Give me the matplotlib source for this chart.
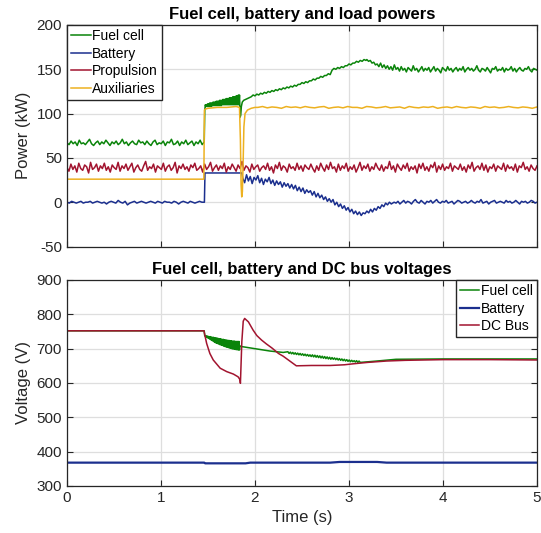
import numpy as np
import matplotlib.pyplot as plt

plt.rcParams['font.family'] = ['Liberation Sans', 'DejaVu Sans']
plt.rcParams['axes.unicode_minus'] = False

# =========================
# Datos
# =========================

# --- potencias (kW) ---
fc_early = [67, 65, 69, 66, 68, 64, 70, 66, 67, 65, 68, 71, 66, 64, 67, 69, 65, 68, 66, 70,
            67, 64, 68, 66, 69, 65, 67, 71, 66, 68, 64, 67, 69, 66, 65, 70, 67, 68, 65, 69,
            66, 64, 68, 70, 65, 67, 66, 69, 64, 68, 67, 71, 65, 66, 69, 64, 68, 66, 70, 65,
            67, 69, 64, 68, 66, 70, 65, 68]
fc_band = [104, 110, 108, 110, 108, 111, 108, 111, 108, 112, 108, 112, 108, 112, 109, 113,
           109, 113, 109, 113, 109, 114, 109, 114, 109, 114, 109, 115, 109, 115, 109, 115,
           110, 116, 110, 116, 110, 116, 110, 117, 110, 117, 110, 117, 110, 118, 110, 118,
           110, 118, 110, 119, 110, 119, 110, 119, 110, 120, 110, 120, 110, 121, 110, 121]
fc_dip_t = [1.838, 1.842, 1.848, 1.855, 1.865, 1.88, 1.92]
fc_dip = [112, 96, 98, 108, 113, 115, 117]
fc_ramp = [119, 121, 120, 122, 121, 123, 122, 124, 123, 125, 124, 126, 125, 127, 126, 128,
           127, 129, 128, 130, 129, 131, 130, 132, 131, 133, 133, 135, 134, 136, 135, 137,
           137, 139, 138, 140, 140, 142, 141, 143, 143, 145, 144]
fc_ramp2 = [149, 151, 150, 152, 151, 153, 152, 154, 154, 156, 155, 157, 157, 159, 158, 160,
            159, 161, 160]
fc_late = [161, 159, 160, 157, 158, 155, 156, 153, 157, 152, 155, 151, 154, 150, 153, 149, 155, 150, 152, 148,
           153, 149, 151, 147, 152, 150, 148, 154, 149, 151, 147, 150, 153, 148, 151, 149, 152, 147, 150, 153,
           148, 151, 149, 146, 152, 150, 148, 153, 149, 151, 147, 150, 152, 148, 151, 149, 153, 147, 150, 152,
           149, 151, 148, 150, 154, 149, 147, 151, 150, 148, 152, 149, 146, 151, 150, 153, 148, 150, 149, 152,
           147, 151, 149, 150, 153, 148, 151, 147, 150, 152, 149, 148, 151, 150, 153, 149, 147, 151, 150, 149]

bat_early = [0, -1, 1, 0, -1, 0, 1, -1, 0, 0, 1, -1, 0, 1, 0, -1, 0, -2, 0, 1,
             0, -1, 2, 0, -1, 1, -3, -1, 0, 1, -1, 0, 1, 0, -1, 0, 1, 0, -1, 1,
             0, -1, 1, 0, 0, -1, 1, 0, -2, 0, 1, 0, -1, 1, 0, -1, 0, 1, 0, 0]
bat_step_t = [1.462, 1.468, 1.86]
bat_step = [0, 33, 33]
bat_mid = [27, 22, 31, 24, 29, 21, 28, 25, 30, 22, 27, 20, 26, 23, 28,
           21, 25, 19, 24, 20, 23, 17, 22, 18, 21, 16, 20,
           15, 19, 13, 17, 12, 16, 10, 14, 11,
           13, 8, 12, 6, 10, 5, 8, 3, 6, 1, 4,
           0, 3, -3, 0, -5, -2, -7, -4, -9, -6,
           -11, -8, -13, -10, -14, -11, -15, -12, -13, -10,
           -12, -8, -11, -7, -9, -5, -7, -3, -5, -1, -3, 0, -2]
bat_late = [0, -1, 1, -2, 0, 2, -1, 1, 0, -2, 1, 3, 0, -1, 2, 0, -2, 1, 0, 2,
            -1, 1, 3, 0, -1, 1, 0, 2, -1, 0, 1, -2, 0, 2, 1, -1, 0, 1, -1, 0,
            2, 0, -1, 1, 0, 3, -1, 0, 1, -2, 0, 1, 2, -1, 0, 1, 0, -1, 2, 0,
            1, -1, 0, 2, 0, -2, 1, 0, 1, -1, 0, 2, 1, -1, 0]

prop = [39, 35, 43, 37, 41, 34, 44, 38, 36, 42, 40, 33, 45, 37, 39, 43, 35, 41, 38, 44,
        36, 40, 34, 42, 39, 37, 45, 35, 41, 38, 43, 36, 40, 44, 34, 39, 42, 37, 35, 41,
        46, 36, 40, 38, 43, 34, 41, 39, 37, 44, 35, 40, 42, 36, 39, 45, 33, 41, 38, 43,
        37, 40, 35, 42, 39, 44, 36, 38, 41, 34, 43, 37, 40, 45, 35, 39, 42, 36, 41, 38,
        44, 34, 40, 37, 43, 39, 35, 42, 38, 46, 36, 41, 39, 34, 43, 37, 40, 42, 35, 39,
        41, 37, 44, 36, 40, 33, 42, 38, 45, 36, 41, 39, 34, 43, 38, 40, 36, 44, 37, 41,
        35, 42, 39, 37, 43, 38, 34, 41, 36, 44, 39, 35, 42, 37, 45, 38, 40, 34, 43, 36,
        41, 38, 44, 35, 40, 37, 42, 34, 39, 45, 36, 41, 38, 43, 35, 40, 37, 44, 39, 36,
        42, 35, 40, 38, 46, 37, 41, 34, 43, 39, 36, 42, 38, 44, 35, 40, 37, 41, 33, 43,
        38, 44, 36, 40, 35, 42, 39, 45, 34, 41, 37, 43, 36, 40, 38, 44, 35, 41, 39, 37,
        43, 36, 40, 34, 42, 38, 45, 35, 39, 41, 37, 44, 36, 42, 34, 40, 38, 43, 35, 41,
        39, 37, 44, 35, 42, 38, 40, 36, 43, 34, 41, 39, 45, 37, 40, 35, 42, 38, 36, 41]

aux_early_t = [0, 0.5, 1.0, 1.456]
aux_early = [26, 26, 26, 26]
aux_trans_t = [1.462, 1.47, 1.5, 1.6, 1.7, 1.8, 1.835, 1.845, 1.852, 1.859, 1.866, 1.874,
               1.882, 1.894, 1.92, 1.96, 2.0]
aux_trans = [104, 105, 106, 107, 107, 108, 107, 70, 20, 6, 12, 45, 85, 100, 104, 106, 107]
aux_late = [107, 108, 106.5, 107.5, 107, 106, 108, 107, 107.5, 106.5, 108, 107, 106.5, 107.5,
            108, 106, 107, 107.5, 106.5, 108, 107, 107, 106, 108, 107.5, 106.5, 107, 108,
            106.5, 107, 107.5, 106, 108, 107, 106.5, 107.5, 107, 108, 106, 107, 107.5, 106.5,
            108, 107, 106.5, 107.5, 107, 106, 108, 107, 107.5, 106.5, 107, 108, 107, 106.5,
            107.5, 107, 106, 107.5]

# --- tensiones (V) ---
vfc_early_t = [0, 1.46]
vfc_early = [752, 752]
vfc_band = [738, 736, 737, 734, 737, 732, 736, 730, 735, 728, 735, 726, 734, 724, 733, 722,
            733, 720, 732, 718, 731, 716, 731, 715, 730, 714, 729, 712, 729, 711, 728, 710,
            727, 709, 727, 707, 726, 706, 725, 705, 725, 704, 724, 703, 724, 702, 723, 701,
            723, 700, 722, 699, 722, 699, 722, 698, 721, 697, 721, 697, 721, 696, 721, 696]
vfc_mid_t = [1.84, 1.86, 2.0, 2.16, 2.3]
vfc_mid = [708, 706, 700, 693, 689]
vfc_osc = [691, 686, 690, 685, 689, 684, 688, 683, 687, 682, 686, 681, 685, 680, 684, 679,
           683, 678, 682, 677, 682, 676, 681, 675, 680, 674, 679, 673, 678, 672, 677, 671,
           676, 670, 675, 669, 674, 669, 673, 668, 672, 667, 671, 666, 670, 665, 669, 664,
           668, 663, 667, 662, 666, 662, 665, 661, 665, 660, 664, 660]
vfc_late_t = [3.17, 3.3, 3.5, 4.0, 4.5, 5.0]
vfc_late = [661, 664, 669, 670, 670, 670]

vbat_t = [0, 1.46, 1.47, 1.9, 1.95, 2.8, 2.9, 3.3, 3.4, 5.0]
vbat = [368, 368, 366, 366, 368, 368, 370, 370, 368, 368]

vdc_t = [0, 1.457, 1.486, 1.52, 1.556, 1.63, 1.70, 1.77, 1.82, 1.84, 1.845, 1.86, 1.875, 1.89,
         1.93, 1.98, 2.02, 2.07, 2.12, 2.18, 2.25, 2.3, 2.35, 2.4, 2.44, 2.6, 2.8, 2.95, 3.05,
         3.2, 3.4, 3.6, 4.0, 4.5, 5.0]
vdc = [752, 752, 715, 686, 667, 643, 633, 626, 618, 610, 599, 720, 780, 788, 778, 754, 738,
       725, 714, 702, 686, 678, 668, 658, 650, 651, 651, 653, 656, 660, 664, 666, 668, 668, 667]

# =========================
# Armar series
# =========================

t_fc = np.concatenate([np.linspace(0, 1.46, len(fc_early)), np.linspace(1.466, 1.835, len(fc_band)),
                       fc_dip_t, np.linspace(1.96, 2.8, len(fc_ramp)),
                       np.linspace(2.82, 3.18, len(fc_ramp2)), np.linspace(3.19, 5.0, len(fc_late))])
p_fc = np.concatenate([fc_early, fc_band, fc_dip, fc_ramp, fc_ramp2, fc_late])

t_bat = np.concatenate([np.linspace(0, 1.46, len(bat_early)), bat_step_t,
                        np.linspace(1.87, 3.45, len(bat_mid)), np.linspace(3.48, 5.0, len(bat_late))])
p_bat = np.concatenate([bat_early, bat_step, bat_mid, bat_late])

t_prop = np.linspace(0, 5, len(prop))

t_aux = np.concatenate([aux_early_t, aux_trans_t, np.linspace(2.03, 5.0, len(aux_late))])
p_aux = np.concatenate([aux_early, aux_trans, aux_late])

t_vfc = np.concatenate([vfc_early_t, np.linspace(1.465, 1.835, len(vfc_band)), vfc_mid_t,
                        np.linspace(2.35, 3.12, len(vfc_osc)), vfc_late_t])
v_fc = np.concatenate([vfc_early, vfc_band, vfc_mid, vfc_osc, vfc_late])

# =========================
# Graficar
# =========================

c_fc = '#0a840a'
c_bat = '#1b2f8e'
c_red = '#a2142f'
c_aux = '#edb120'
dark = '#262626'

fig = plt.figure(figsize=(5.41, 5.33), dpi=100)
ax1 = fig.add_axes([0.1238, 0.5375, 0.8688, 0.4156])
ax2 = fig.add_axes([0.1238, 0.0882, 0.8688, 0.3865])

ax1.plot(t_fc, p_fc, color=c_fc, lw=1.1, label="Fuel cell")
ax1.plot(t_bat, p_bat, color=c_bat, lw=1.1, label="Battery")
ax1.plot(t_prop, prop, color=c_red, lw=1.1, label="Propulsion")
ax1.plot(t_aux, p_aux, color=c_aux, lw=1.1, label="Auxiliaries")
ax1.set_ylim(-50, 200)
ax1.set_yticks([-50, 0, 50, 100, 150, 200])
ax1.set_ylabel("Power (kW)", fontsize=12, color=dark)
ax1.set_title("Fuel cell, battery and load powers", fontsize=12, fontweight='bold', pad=4)
ax1.tick_params(labelbottom=False)

ax2.plot(t_vfc, v_fc, color=c_fc, lw=1.1, label="Fuel cell")
ax2.plot(vbat_t, vbat, color=c_bat, lw=1.6, label="Battery")
ax2.plot(vdc_t, vdc, color=c_red, lw=1.1, label="DC Bus")
ax2.set_ylim(300, 900)
ax2.set_yticks(range(300, 901, 100))
ax2.set_ylabel("Voltage (V)", fontsize=12, color=dark)
ax2.set_xlabel("Time (s)", fontsize=12, color=dark)
ax2.set_title("Fuel cell, battery and DC bus voltages", fontsize=12, fontweight='bold', pad=4)

for ax in (ax1, ax2):
    ax.set_xlim(0, 5)
    ax.set_xticks(range(0, 6))
    ax.grid(True, color='#dedede', lw=0.9)
    ax.set_axisbelow(True)
    ax.tick_params(direction='in', top=True, right=True, labelsize=11, colors=dark, length=4)
    for s in ax.spines.values():
        s.set_color(dark)
        s.set_linewidth(0.9)

leg1 = ax1.legend(loc='upper left', fontsize=10, borderaxespad=0, fancybox=False,
                  edgecolor=dark, framealpha=1, handlelength=1.4, handletextpad=0.1,
                  labelspacing=0.25, borderpad=0.3)
leg2 = ax2.legend(loc='upper right', fontsize=10, borderaxespad=0, fancybox=False,
                  edgecolor=dark, framealpha=1, handlelength=1.4, handletextpad=0.1,
                  labelspacing=0.25, borderpad=0.3)

plt.savefig("out.png", dpi=100)
